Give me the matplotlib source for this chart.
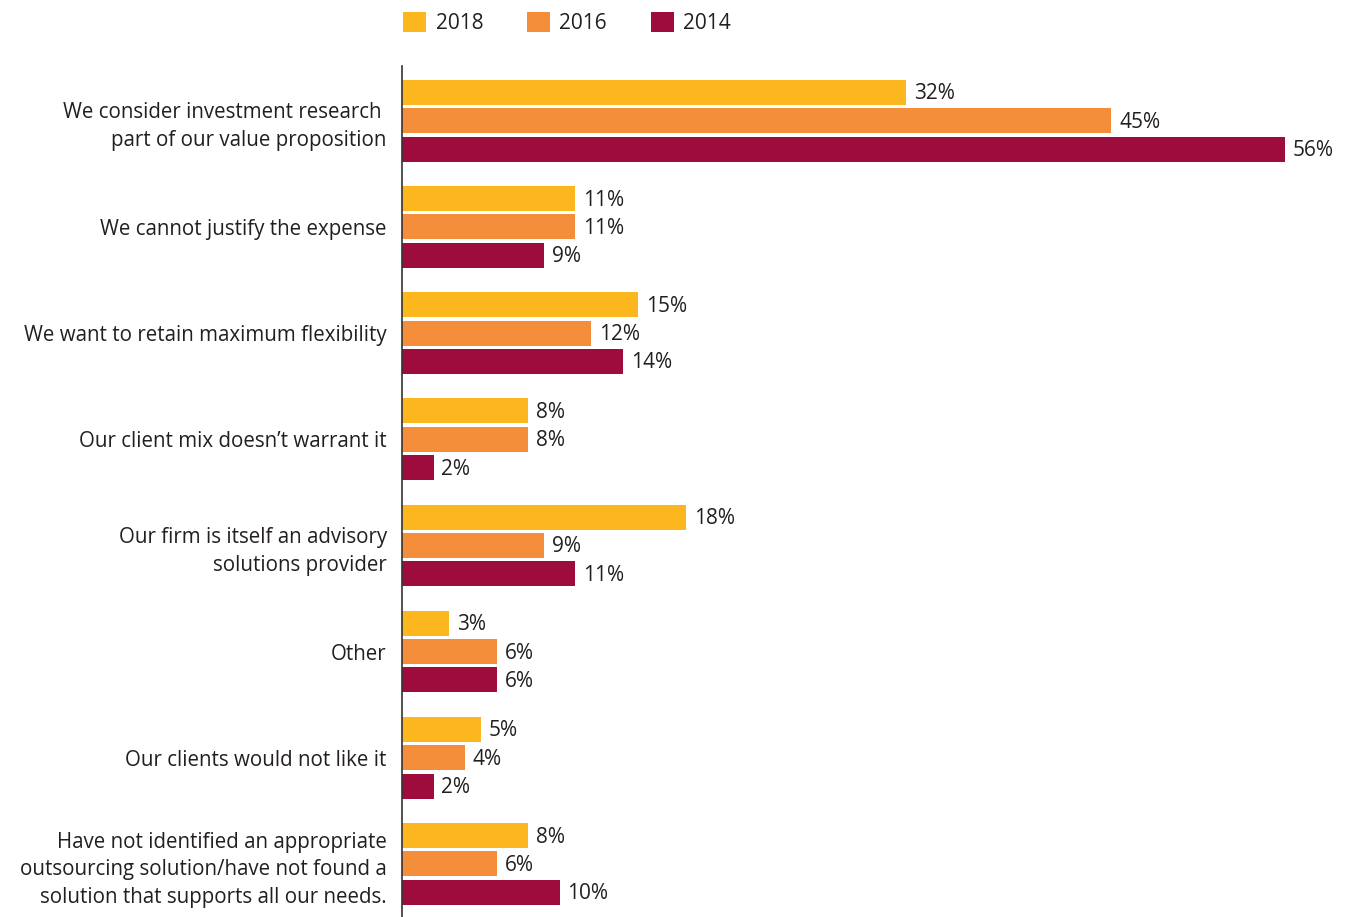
import matplotlib.pyplot as plt
import numpy as np

plt.rcParams['font.family'] = ['Open Sans', 'DejaVu Sans']

categories = [
    "We consider investment research \npart of our value proposition",
    "We cannot justify the expense",
    "We want to retain maximum flexibility",
    "Our client mix doesn\u2019t warrant it",
    "Our firm is itself an advisory\nsolutions provider",
    "Other",
    "Our clients would not like it",
    "Have not identified an appropriate\noutsourcing solution/have not found a\nsolution that supports all our needs.",
]
years = ["2018", "2016", "2014"]
v2018 = [32, 11, 15, 8, 18, 3, 5, 8]
v2016 = [45, 11, 12, 8, 9, 6, 4, 6]
v2014 = [56, 9, 14, 2, 11, 6, 2, 10]
colors = ["#FDB71E", "#F58E3A", "#9D0C3D"]

fig = plt.figure(figsize=(13.51, 9.17), dpi=100)
ax = fig.add_axes([402/1351, 0, 1 - 402/1351, 851/917])

y = np.arange(len(categories))
offset = 0.267
height = 0.235
series = [v2018, v2016, v2014]
for i, vals in enumerate(series):
    pos = y + (i - 1) * offset
    bars = ax.barh(pos, vals, height=height, color=colors[i], label=years[i])
    for b, v in zip(bars, vals):
        ax.text(b.get_width() + 0.5, b.get_y() + b.get_height() / 2 + 0.015, f"{v}%",
                va='center', ha='left', fontsize=15, color='#231f20')

ax.set_xlim(0, 60.2)
ax.set_ylim(7.5, -0.515)
ax.set_yticks(y)
ax.set_yticklabels(categories, fontsize=14.8, color='#231f20', linespacing=1.42)
ax.tick_params(axis='y', length=0, pad=11)
ax.set_xticks([])
for s in ['top', 'right', 'bottom']:
    ax.spines[s].set_visible(False)
ax.spines['left'].set_color('#333333')
ax.spines['left'].set_linewidth(1.2)

fig.legend(loc='upper left', bbox_to_anchor=(395/1351, 1 - 4/917), ncol=3, frameon=False,
           fontsize=15, handlelength=1.1, handleheight=1.1, handletextpad=0.45,
           columnspacing=2.1, borderaxespad=0, labelcolor='#231f20')

fig.savefig("out.png", dpi=100)
